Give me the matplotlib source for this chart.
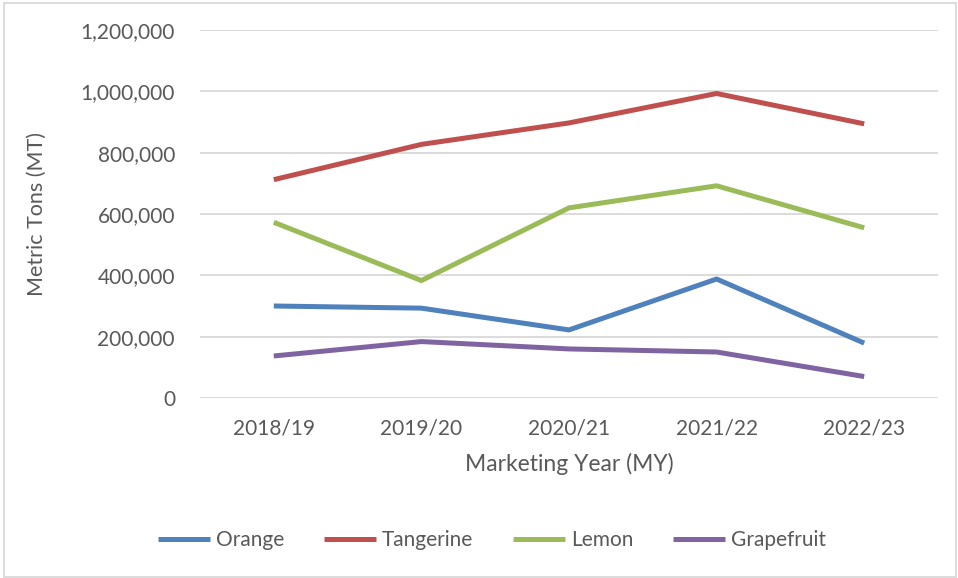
#!/usr/bin/env python3
import matplotlib.pyplot as plt
from matplotlib.patches import Rectangle
from matplotlib.ticker import FuncFormatter

YEARS = ["2018/19", "2019/20", "2020/21", "2021/22", "2022/23"]
ORANGE = [300000, 293000, 222000, 388000, 179000]
TANGERINE = [712000, 827000, 897000, 993000, 894000]
LEMON = [573000, 383000, 620000, 692000, 555000]
GRAPEFRUIT = [137000, 184000, 160000, 150000, 70000]

SERIES = [
    ("Orange", ORANGE, "#4F81BD"),
    ("Tangerine", TANGERINE, "#C0504D"),
    ("Lemon", LEMON, "#9BBB59"),
    ("Grapefruit", GRAPEFRUIT, "#8064A2"),
]

TEXT = "#595959"
plt.rcParams["font.family"] = ["Lato", "DejaVu Sans"]

fig = plt.figure(figsize=(9.58, 5.78), dpi=100)
ax = fig.add_axes([200 / 958, 1 - 398 / 578, 738 / 958, 368 / 578])

x = list(range(len(YEARS)))
for name, vals, color in SERIES:
    ax.plot(x, vals, color=color, lw=3.6, label=name, solid_capstyle="butt",
            solid_joinstyle="round")

ax.set_xlim(-0.5, len(YEARS) - 0.5)
ax.set_ylim(0, 1200000)
ax.set_yticks(range(0, 1200001, 200000))
ax.yaxis.set_major_formatter(FuncFormatter(lambda v, _: f"{int(v):,}"))
ax.set_xticks(x, labels=YEARS)
ax.grid(axis="y", color="#D9D9D9", lw=1.3)
ax.set_axisbelow(True)
for s in ax.spines.values():
    s.set_visible(False)
ax.tick_params(length=0, labelsize=15, labelcolor=TEXT)
ax.tick_params(axis="y", pad=18)
ax.tick_params(axis="x", pad=15)

ax.set_xlabel("Marketing Year (MY)", fontsize=16.5, color=TEXT, labelpad=10)
ax.set_ylabel("Metric Tons (MT)", fontsize=15.5, color=TEXT, labelpad=24)

fig.legend(loc="center", bbox_to_anchor=(492 / 958, 1 - 540 / 578), ncol=4,
           frameon=False, fontsize=15, labelcolor=TEXT, handlelength=2.5,
           columnspacing=1.9, handletextpad=0.3)

fig.patches.append(Rectangle((4 / 958, 1 / 578), 952 / 958, 574 / 578,
                             transform=fig.transFigure, fill=False,
                             edgecolor="#D9D9D9", lw=1.3))

fig.savefig("out.png")
